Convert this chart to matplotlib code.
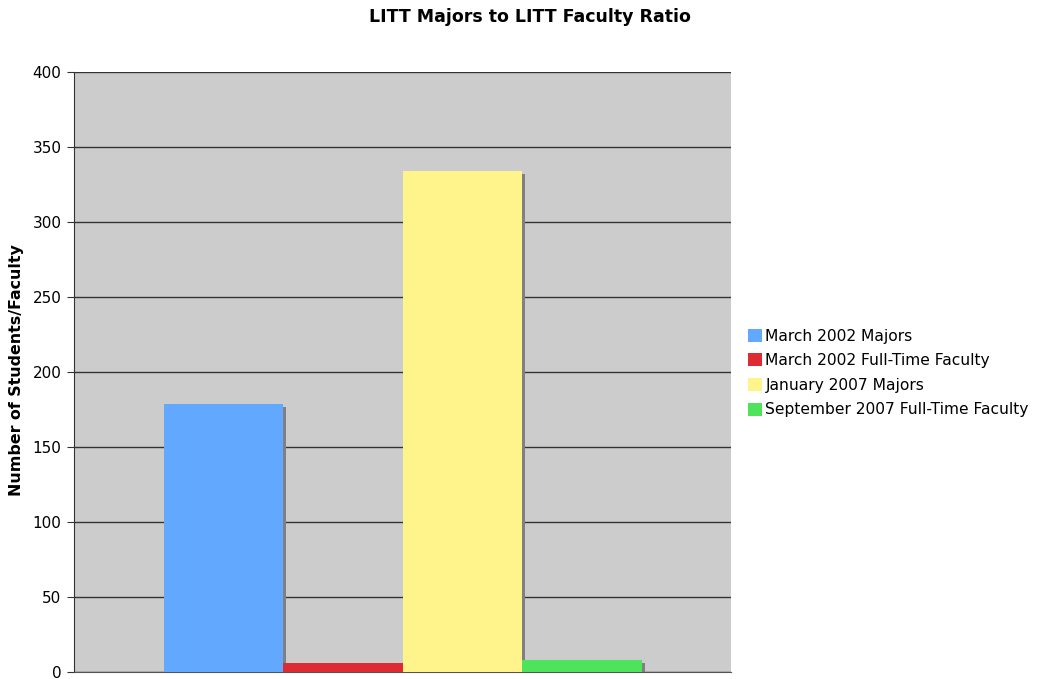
import matplotlib
matplotlib.use('Agg')
import matplotlib.pyplot as plt
from matplotlib.patches import Patch

# Data
series = ['March 2002 Majors', 'March 2002 Full-Time Faculty',
          'January 2007 Majors', 'September 2007 Full-Time Faculty']
values = [179, 6, 334, 8]
colors = ['#63A8FF', '#DE2A33', '#FFF48C', '#4DE35A']
yticks = [0, 50, 100, 150, 200, 250, 300, 350, 400]

plt.rcParams['font.family'] = ['DejaVu Sans']

fig = plt.figure(figsize=(10.39, 6.79), dpi=100)
ax = fig.add_axes([74 / 1039, 7 / 679, 657 / 1039, 600 / 679])
ax.set_facecolor('#CCCCCC')

xs = list(range(len(values)))
# drop shadows (slightly offset right and down)
ax.bar([x + 0.025 for x in xs], [max(v - 2, 0) for v in values], width=1.0,
       color='#808080', linewidth=0, zorder=2)
ax.bar(xs, values, width=1.0, color=colors, linewidth=0, zorder=3)

ax.set_xlim(-1.253, 4.245)
ax.set_ylim(0, 400)
ax.set_yticks(yticks)
ax.set_xticks([])
ax.yaxis.grid(True, color='#333333', linewidth=1)
ax.set_axisbelow(True)
ax.tick_params(axis='y', direction='out', length=5, color='#333333',
               labelsize=11, pad=4)
for s in ['top', 'right']:
    ax.spines[s].set_visible(False)
ax.spines['left'].set_color('#333333')
ax.spines['bottom'].set_color('#555555')

fig.text(17 / 1039, 1 - 370 / 679, 'Number of Students/Faculty',
         rotation=90, ha='center', va='center', fontsize=11.4,
         fontweight='bold')
fig.text(530 / 1039, 1 - 17 / 679, 'LITT Majors to LITT Faculty Ratio',
         ha='center', va='center', fontsize=12.5, fontweight='bold')

handles = [Patch(facecolor=c, edgecolor='none') for c in colors]
fig.legend(handles, series, loc='center left',
           bbox_to_anchor=(742 / 1039, 1 - 373 / 679), frameon=False,
           fontsize=11.2, handlelength=0.9, handleheight=0.9,
           handletextpad=0.2, labelspacing=0.62, borderaxespad=0)

fig.savefig('out.png', dpi=100)
